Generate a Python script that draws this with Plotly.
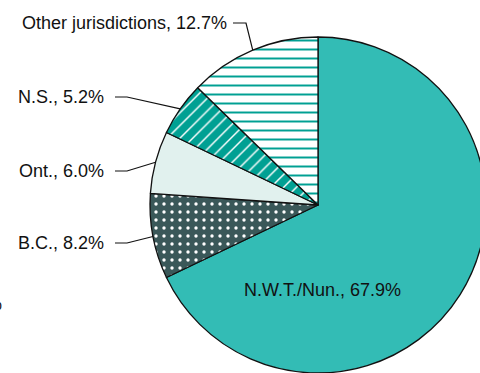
import math
import plotly.graph_objects as go

# Share of cases by jurisdiction (%)
regions = ["N.W.T./Nun.", "B.C.", "Ont.", "N.S.", "Other jurisdictions"]
shares = [67.9, 8.2, 6.0, 5.2, 12.7]

fill_colors = ["#33BCB5", "#3A5859", "#E1F1EE", "#00A093", "#FFFFFF"]
pattern_shapes = ["", ".", "", "/", "-"]
pattern_fg = ["#33BCB5", "#FFFFFF", "#E1F1EE", "#FFFFFF", "#00A093"]
pattern_sizes = [8, 8, 8, 9, 9]
pattern_solidity = [0.2, 0.14, 0.2, 0.16, 0.22]

# Canvas geometry: the pie sits in a square plot area that runs past the right edge
W, H = 486, 373
ML, MR, MT, MB = 150, 0, 37, 0
PW, PH = W - ML - MR, H - MT - MB


def px_x(x):
    return (x - ML) / PW


def px_y(y):
    return (H - MB - y) / PH


FONT = "Liberation Sans, Arial, sans-serif"
FSIZE = 18

fig = go.Figure(
    go.Pie(
        labels=regions,
        values=shares,
        sort=False,
        direction="clockwise",
        rotation=0,
        textinfo="none",
        hoverinfo="label+percent",
        marker=dict(
            colors=fill_colors,
            line=dict(color="#111111", width=1.3),
            pattern=dict(
                shape=pattern_shapes,
                fgcolor=pattern_fg,
                bgcolor=fill_colors,
                size=pattern_sizes,
                solidity=pattern_solidity,
                fillmode="replace",
            ),
        ),
        domain=dict(x=[0, 1], y=[0, 1]),
        showlegend=False,
    )
)

# Mid-angle (clockwise from 12 o'clock) of each slice, used for leader tips
total = sum(shares)
mids = []
acc = 0.0
for v in shares:
    mids.append((acc + v / 2) / total * 2 * math.pi)
    acc += v

# Outside labels: (slice index, text right edge, label y, elbow start x, elbow end x)
outside = [
    (4, 229, 23, 233, 246),
    (3, 106, 97, 115, 127),
    (2, 106, 171, 115, 127),
    (1, 106, 243, 115, 127),
]

annotations = []
shapes = []
for idx, text_right, ly, x0, x1 in outside:
    theta = mids[idx]
    tip_x = 0.5 + 0.5 * math.sin(theta)
    tip_y = 0.5 + 0.5 * math.cos(theta)
    annotations.append(
        dict(
            x=px_x(text_right), y=px_y(ly), xref="paper", yref="paper",
            xanchor="right", yanchor="middle", showarrow=False,
            text=f"{regions[idx]}, {shares[idx]:.1f}%",
            font=dict(family=FONT, size=FSIZE, color="#111111"),
        )
    )
    shapes.append(
        dict(
            type="path", xref="paper", yref="paper",
            path=f"M {px_x(x0)},{px_y(ly)} L {px_x(x1)},{px_y(ly)} L {tip_x},{tip_y}",
            line=dict(color="#111111", width=1.2),
        )
    )

# Label inside the largest slice
annotations.append(
    dict(
        x=px_x(322), y=px_y(290), xref="paper", yref="paper",
        xanchor="center", yanchor="middle", showarrow=False,
        text=f"{regions[0]}, {shares[0]:.1f}%",
        font=dict(family=FONT, size=FSIZE, color="#111111"),
    )
)

# Edge of a neighbouring label, mostly cut off at the left border
annotations.append(
    dict(
        x=px_x(4), y=px_y(304), xref="paper", yref="paper",
        xanchor="right", yanchor="middle", showarrow=False,
        text="%", font=dict(family=FONT, size=FSIZE, color="#111111"),
    )
)

fig.update_layout(
    width=W, height=H,
    margin=dict(l=ML, r=MR, t=MT, b=MB, pad=0),
    paper_bgcolor="#FFFFFF",
    plot_bgcolor="#FFFFFF",
    annotations=annotations,
    shapes=shapes,
)

fig.write_html(
    "out.html",
    config={"displayModeBar": False},
    post_script="document.documentElement.style.overflow='hidden';"
                "document.body.style.margin='0';document.body.style.overflow='hidden';",
)
